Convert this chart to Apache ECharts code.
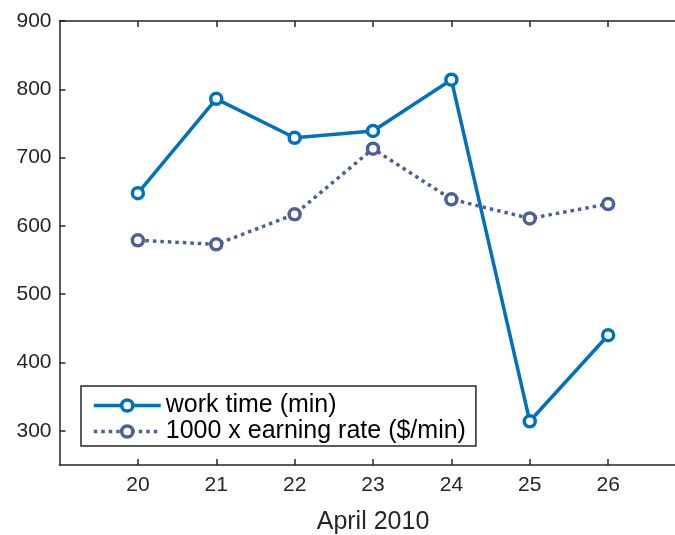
<!DOCTYPE html>
<html>
<head>
<meta charset="utf-8">
<script src="https://cdn.jsdelivr.net/npm/echarts@6/dist/echarts.min.js"></script>
<style>
  html, body { margin: 0; padding: 0; background: #fff; overflow: hidden; }
  #chart { width: 675px; height: 535px; }
</style>
</head>
<body>
<div id="chart"></div>
<script>
// Days of April 2010
const days = [20, 21, 22, 23, 24, 25, 26];
// Minutes worked per day
const workTime = [648, 786, 729, 739, 814, 314, 440];
// Earning rate in $/min, scaled by 1000
const earningRate = [579, 573, 617, 713, 639, 611, 632];
// Tick values
const xTicks = [20, 21, 22, 23, 24, 25, 26];
const yTicks = [300, 400, 500, 600, 700, 800, 900];

const axisColor = '#262626';
const workColor = '#0072bd';
const rateColor = '#4a6096';
const font = 'Liberation Sans, Arial, Helvetica, sans-serif';

const pairs = (xs, ys) => xs.map((x, i) => [x, ys[i]]);

const chart = echarts.init(document.getElementById('chart'), null, { renderer: 'canvas' });

chart.setOption({
  animation: false,
  backgroundColor: '#ffffff',
  // the axes box runs slightly past the right edge of the window
  grid: { left: 59.5, top: 21, width: 627, height: 444, containLabel: false, outerBoundsMode: 'none' },
  legend: {
    orient: 'vertical',
    left: 81,
    top: 386,
    padding: [7, 10, 2, 11],
    itemWidth: 67,
    itemHeight: 14,
    itemGap: 1,
    borderColor: axisColor,
    borderWidth: 1.5,
    backgroundColor: '#ffffff',
    textStyle: { fontFamily: font, fontSize: 25, color: '#000000' },
    data: [
      {
        name: 'work time (min)',
        lineStyle: { color: workColor, width: 3.5, type: 'solid' },
        itemStyle: { color: '#ffffff', borderColor: workColor, borderWidth: 3.5 }
      },
      {
        name: '1000 x earning rate ($/min)',
        lineStyle: { color: rateColor, width: 3.5, type: [3.5, 4] },
        itemStyle: { color: '#ffffff', borderColor: rateColor, borderWidth: 3.5 }
      }
    ]
  },
  xAxis: [
    {
      type: 'value',
      position: 'bottom',
      min: 19, max: 27,
      name: 'April 2010',
      nameLocation: 'middle',
      nameGap: 45,
      nameTextStyle: { fontFamily: font, fontSize: 25, color: axisColor },
      axisLine: { show: true, lineStyle: { color: axisColor, width: 1.5 } },
      axisTick: { show: true, inside: true, length: 6, customValues: xTicks, lineStyle: { color: axisColor, width: 1.5 } },
      axisLabel: { show: true, customValues: xTicks, margin: 10, fontFamily: font, fontSize: 21, color: axisColor },
      splitLine: { show: false }
    },
    {
      type: 'value',
      position: 'top',
      min: 19, max: 27,
      axisLine: { show: true, onZero: false, lineStyle: { color: axisColor, width: 1.5 } },
      axisTick: { show: true, inside: true, length: 6, customValues: xTicks, lineStyle: { color: axisColor, width: 1.5 } },
      axisLabel: { show: false },
      splitLine: { show: false }
    }
  ],
  yAxis: [
    {
      type: 'value',
      position: 'left',
      min: 250, max: 900,
      axisLine: { show: true, onZero: false, lineStyle: { color: axisColor, width: 1.5 } },
      axisTick: { show: true, inside: true, length: 6, customValues: yTicks, lineStyle: { color: axisColor, width: 1.5 } },
      axisLabel: { show: true, customValues: yTicks, margin: 8, fontFamily: font, fontSize: 21, color: axisColor },
      splitLine: { show: false }
    },
    {
      type: 'value',
      position: 'right',
      min: 250, max: 900,
      axisLine: { show: true, onZero: false, lineStyle: { color: axisColor, width: 1.5 } },
      axisTick: { show: true, inside: true, length: 6, customValues: yTicks, lineStyle: { color: axisColor, width: 1.5 } },
      axisLabel: { show: false },
      splitLine: { show: false }
    }
  ],
  series: [
    {
      name: 'work time (min)',
      type: 'line',
      xAxisIndex: 0, yAxisIndex: 0,
      data: pairs(days, workTime),
      symbol: 'circle',
      symbolSize: 11,
      showAllSymbol: true,
      lineStyle: { color: workColor, width: 3.5, type: 'solid' },
      itemStyle: { color: '#ffffff', borderColor: workColor, borderWidth: 3.5 },
      emphasis: { disabled: true },
      z: 3
    },
    {
      name: '1000 x earning rate ($/min)',
      type: 'line',
      xAxisIndex: 0, yAxisIndex: 0,
      data: pairs(days, earningRate),
      symbol: 'circle',
      symbolSize: 11,
      showAllSymbol: true,
      lineStyle: { color: rateColor, width: 3.5, type: [3.5, 4] },
      itemStyle: { color: '#ffffff', borderColor: rateColor, borderWidth: 3.5 },
      emphasis: { disabled: true },
      z: 2
    }
  ]
});
</script>
</body>
</html>
